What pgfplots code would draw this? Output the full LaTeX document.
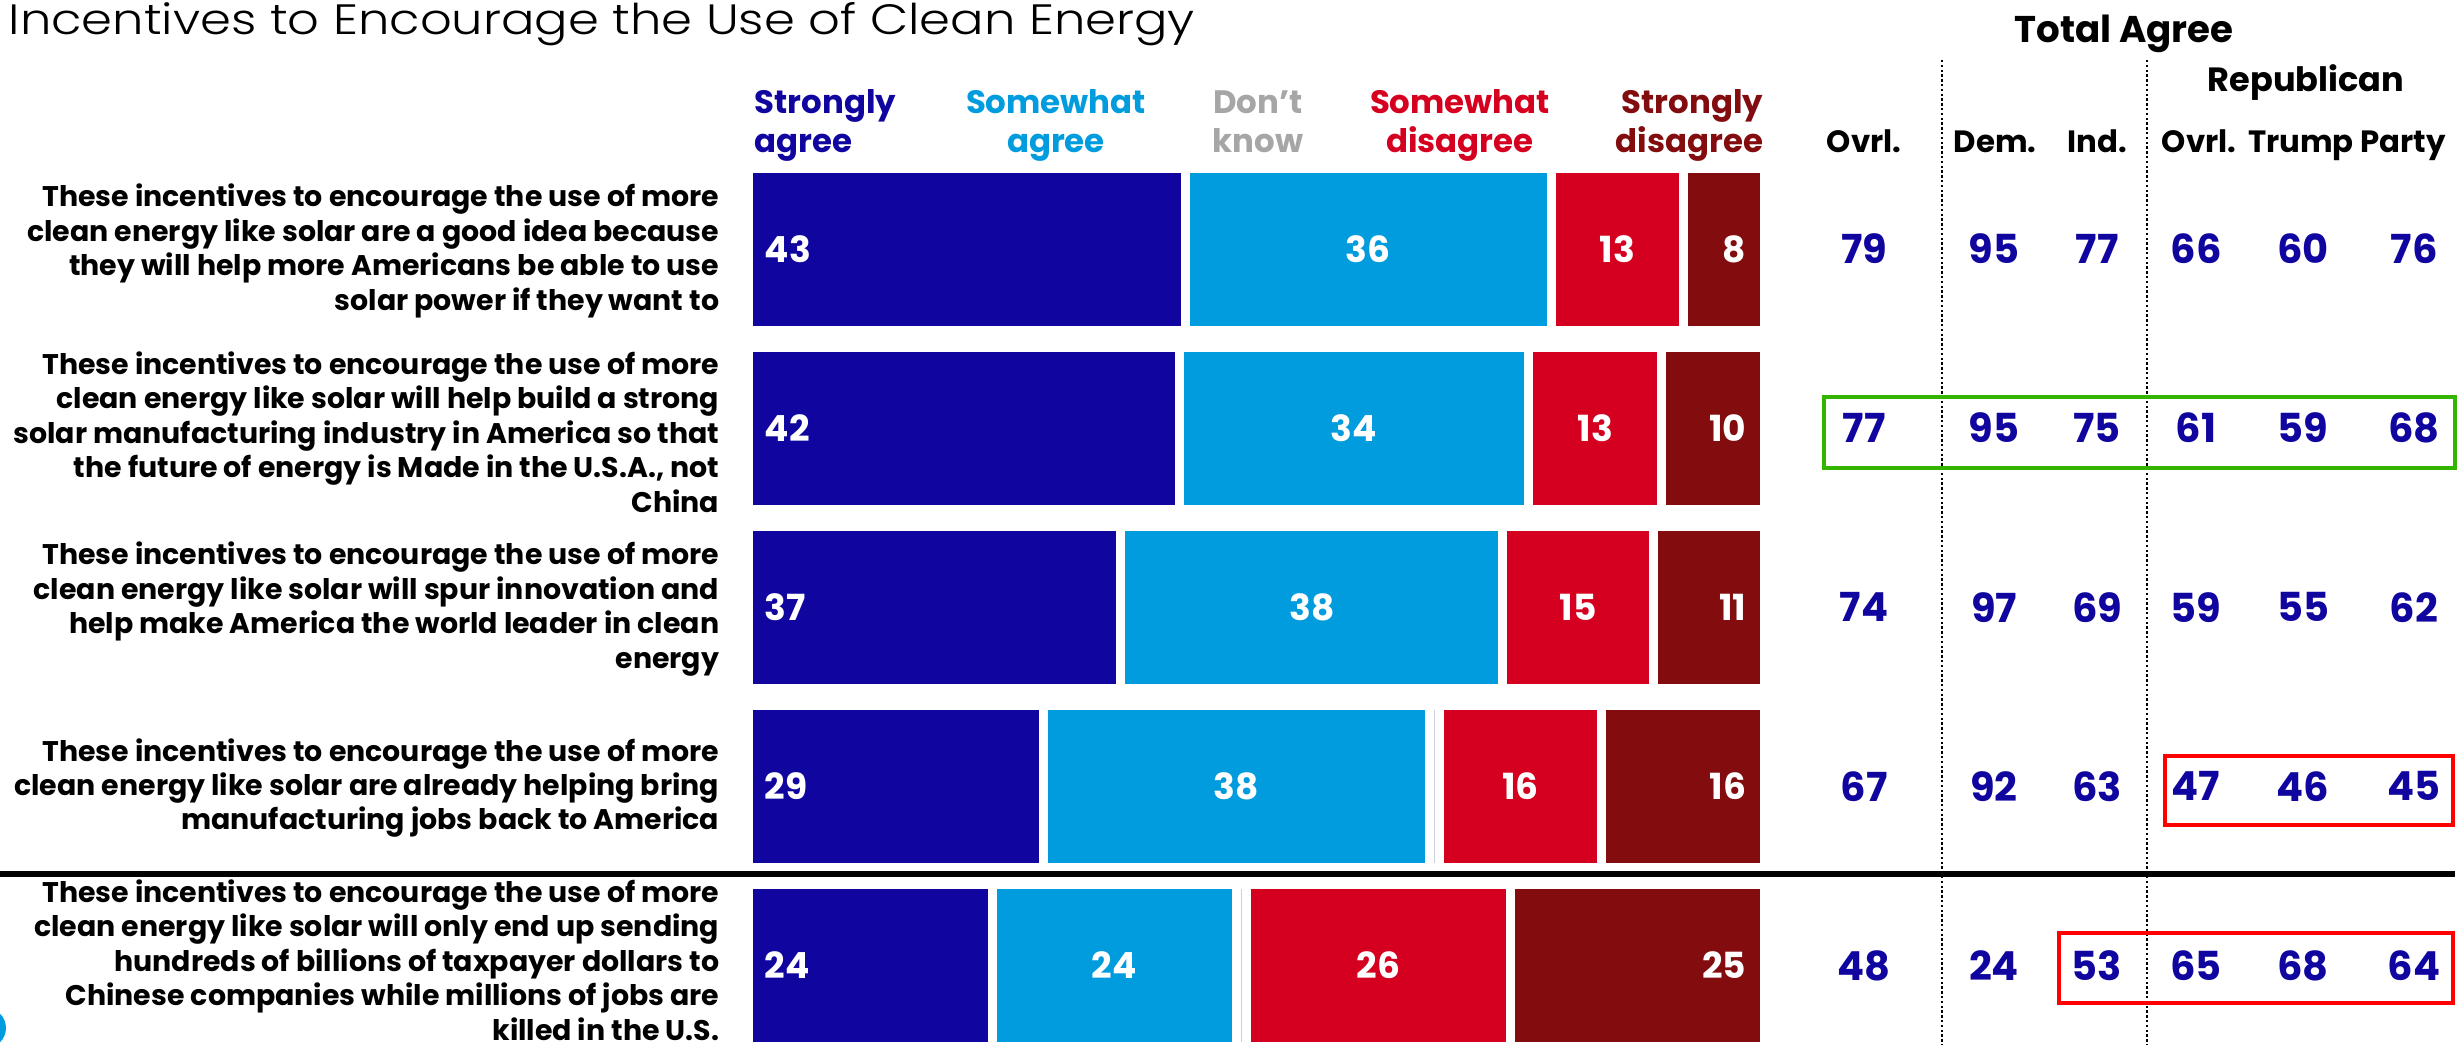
\documentclass[border=0pt]{standalone}
\usepackage{pgfplots}
\pgfplotsset{compat=1.18}
\usepackage{pgfplotstable}
\usepackage{fontspec}
\setmainfont{Poppins}
\newfontfamily\lightfont{Poppins Light}[FakeStretch=1.17]

\definecolor{sa}{HTML}{10069F}
\definecolor{swa}{HTML}{009CDE}
\definecolor{dk}{HTML}{D0D0D0}
\definecolor{dkt}{HTML}{A6A6A6}
\definecolor{swd}{HTML}{D50020}
\definecolor{sd}{HTML}{820C0E}
\definecolor{numblue}{HTML}{10069F}
\definecolor{boxgreen}{HTML}{33B500}
\definecolor{boxred}{HTML}{FF0000}

\newcommand\fs[2]{\fontsize{#1}{#2}\selectfont}

\pgfplotstableread{
row sa swa dk swd sd
1 43 36 0 13 8
2 42 34 0 13 10
3 37 38 0 15 11
4 29 38 1 16 16
5 24 24 1 26 25
}\bars
\pgfplotstablecreatecol[create col/expr={\thisrow{sa}+\thisrow{swa}+\thisrow{dk}+\thisrow{swd}+\thisrow{sd}}]{tot}{\bars}
\pgfplotstablecreatecol[create col/expr={100*\thisrow{sa}/\thisrow{tot}}]{nsa}{\bars}
\pgfplotstablecreatecol[create col/expr={100*\thisrow{swa}/\thisrow{tot}}]{nswa}{\bars}
\pgfplotstablecreatecol[create col/expr={100*\thisrow{dk}/\thisrow{tot}}]{ndk}{\bars}
\pgfplotstablecreatecol[create col/expr={100*\thisrow{swd}/\thisrow{tot}}]{nswd}{\bars}
\pgfplotstablecreatecol[create col/expr={100*\thisrow{sd}/\thisrow{tot}}]{nsd}{\bars}
\pgfplotstablecreatecol[create col/expr={\thisrow{nsa}+\thisrow{nswa}/2}]{pswa}{\bars}
\pgfplotstablecreatecol[create col/expr={\thisrow{nsa}+\thisrow{nswa}+\thisrow{ndk}+\thisrow{nswd}/2}]{pswd}{\bars}

\pgfplotstableread{
row ovrl dem ind rovrl trump party
1 79 95 77 66 60 76
2 77 95 75 61 59 68
3 74 97 69 59 55 62
4 67 92 63 47 46 45
5 48 24 53 65 68 64
}\agree

\pgfplotsset{
  rowaxis/.style={
    scale only axis, anchor=north west, height=221.2pt,
    ymin=0.5, ymax=5.44, y dir=reverse, hide axis, clip=false,
  },
  lbl/.style={only marks, mark=*, mark size=0pt,
    mark options={draw=none, fill=none},
    point meta=explicit symbolic, nodes near coords,
    nodes near coords style={inner sep=0pt, font=\bfseries\fs{9}{9}, #1}},
}

\begin{document}
\begin{tikzpicture}
% ---------- bars ----------
\begin{axis}[rowaxis, at={(187.125pt,-39.8625pt)}, width=254pt,
  xbar stacked, bar width=40.5pt, xmin=0, xmax=100]
\addplot[fill=sa, draw=white, line width=2.25pt] table[x=nsa, y=row]{\bars};
\addplot[fill=swa, draw=white, line width=2.25pt] table[x=nswa, y=row]{\bars};
\addplot[fill=dk, draw=white, line width=2.25pt] table[x=ndk, y=row]{\bars};
\addplot[fill=swd, draw=white, line width=2.25pt] table[x=nswd, y=row]{\bars};
\addplot[fill=sd, draw=white, line width=2.25pt] table[x=nsd, y=row]{\bars};
\end{axis}
% ---------- bar labels ----------
\begin{axis}[rowaxis, at={(187.125pt,-39.8625pt)}, width=254pt, xmin=0, xmax=100]
\addplot[lbl={anchor=west, xshift=3.9pt, text=white}] table[x expr=0, y=row, meta=sa]{\bars};
\addplot[lbl={anchor=center, text=white}] table[x=pswa, y=row, meta=swa]{\bars};
\addplot[lbl={anchor=center, text=white}] table[x=pswd, y=row, meta=swd]{\bars};
\addplot[lbl={anchor=east, xshift=-4.4pt, text=white}] table[x expr=100, y=row, meta=sd]{\bars};
\end{axis}
% ---------- total agree numbers ----------
\begin{axis}[rowaxis, at={(0pt,-39.8625pt)}, width=616pt, xmin=0, xmax=2464]
\addplot[lbl={anchor=center, text=numblue, font=\bfseries\fs{10}{10}}] table[x expr=1864, y=row, meta=ovrl]{\agree};
\addplot[lbl={anchor=center, text=numblue, font=\bfseries\fs{10}{10}}] table[x expr=1994, y=row, meta=dem]{\agree};
\addplot[lbl={anchor=center, text=numblue, font=\bfseries\fs{10}{10}}] table[x expr=2097, y=row, meta=ind]{\agree};
\addplot[lbl={anchor=center, text=numblue, font=\bfseries\fs{10}{10}}] table[x expr=2196, y=row, meta=rovrl]{\agree};
\addplot[lbl={anchor=center, text=numblue, font=\bfseries\fs{10}{10}}] table[x expr=2303, y=row, meta=trump]{\agree};
\addplot[lbl={anchor=center, text=numblue, font=\bfseries\fs{10}{10}}] table[x expr=2414, y=row, meta=party]{\agree};
\end{axis}

\begin{scope}[x=0.25pt, y=-0.25pt]
% title
\node[anchor=base west, inner sep=0pt] at (8,35) {\lightfont\fs{10.6}{12}Incentives to Encourage the Use of Clean Energy};
% column headers
\begin{scope}[every node/.style={inner sep=0pt, font=\bfseries\fs{8.1}{9}}]
\node[anchor=base west, text=sa] at (754,114) {Strongly};
\node[anchor=base west, text=sa] at (754,153) {agree};
\node[anchor=base, text=swa] at (1056,114) {Somewhat};
\node[anchor=base, text=swa] at (1056,153) {agree};
\node[anchor=base, text=dkt] at (1258,114) {Don’t};
\node[anchor=base, text=dkt] at (1258,153) {know};
\node[anchor=base, text=swd] at (1460,114) {Somewhat};
\node[anchor=base, text=swd] at (1460,153) {disagree};
\node[anchor=base east, text=sd] at (1764,114) {Strongly};
\node[anchor=base east, text=sd] at (1764,153) {disagree};
\end{scope}
\begin{scope}[every node/.style={inner sep=0pt, font=\bfseries\fs{7.7}{9}}]
\node[anchor=base] at (1864,153) {Ovrl.};
\node[anchor=base] at (1995,153) {Dem.};
\node[anchor=base] at (2097,153) {Ind.};
\node[anchor=base] at (2199,153) {Ovrl.};
\node[anchor=base] at (2301,153) {Trump};
\node[anchor=base] at (2403,153) {Party};
\node[anchor=base, font=\bfseries\fs{8.4}{9}] at (2306,92) {Republican};
\node[anchor=base, font=\bfseries\fs{9.3}{10}] at (2124,43) {Total Agree};
\end{scope}
% statements
\begin{scope}[every node/.style={anchor=east, align=right, inner sep=0pt, font=\bfseries\fs{7.1}{8.6}}]
\node at (720,251) {These incentives to encourage the use of more\\clean energy like solar are a good idea because\\they will help more Americans be able to use\\solar power if they want to};
\node at (720,432) {These incentives to encourage the use of more\\clean energy like solar will help build a strong\\solar manufacturing industry in America so that\\the future of energy is Made in the U.S.A., not\\China};
\node at (720,609) {These incentives to encourage the use of more\\clean energy like solar will spur innovation and\\help make America the world leader in clean\\energy};
\node at (720,788) {These incentives to encourage the use of more\\clean energy like solar are already helping bring\\manufacturing jobs back to America};
\node at (720,960) {These incentives to encourage the use of more\\clean energy like solar will only end up sending\\hundreds of billions of taxpayer dollars to\\Chinese companies while millions of jobs are\\killed in the U.S.};
\end{scope}
% dotted dividers
\draw[line width=0.6pt, dash pattern=on 0.6pt off 0.6pt] (1942,60) -- (1942,1045);
\draw[line width=0.6pt, dash pattern=on 0.6pt off 0.6pt] (2147,60) -- (2147,1045);
% separator
\draw[line width=1.4pt] (0,874) -- (2455,874);
% highlight boxes
\draw[boxgreen, line width=1.1pt] (1824,397) rectangle (2455,468);
\draw[boxred, line width=1.1pt] (2165,756) rectangle (2453,825);
\draw[boxred, line width=1.1pt] (2059,933) rectangle (2453,1003);
% logo fragment
\fill[swa] (-14,1028) circle (20);
% bounding box
\pgfresetboundingbox
\path[use as bounding box] (0,0) rectangle (2464,1045);
\end{scope}
\end{tikzpicture}
\end{document}
